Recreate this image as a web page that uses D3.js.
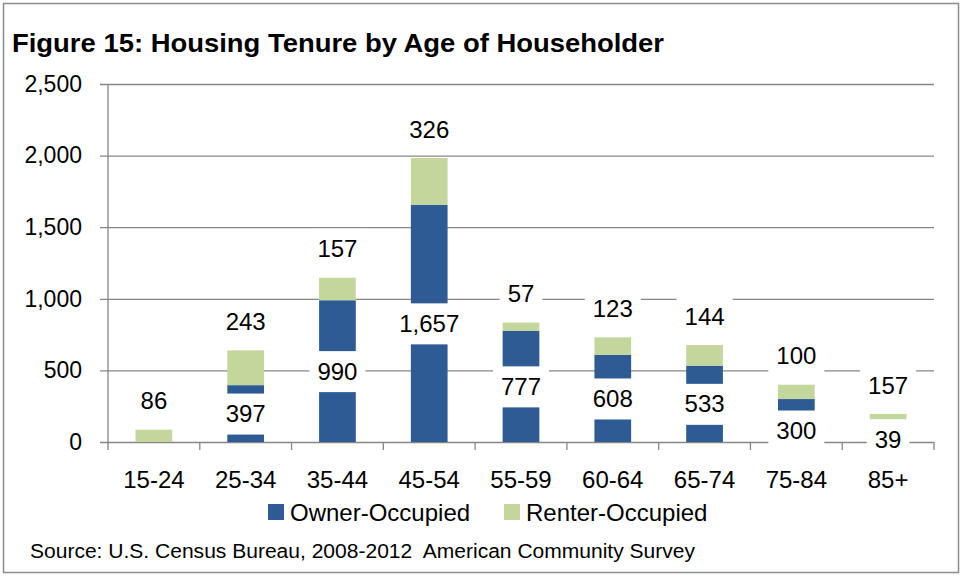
<!DOCTYPE html>
<html>
<head>
<meta charset="utf-8">
<script src="https://cdn.jsdelivr.net/npm/d3@7"></script>
<style>
  body { margin: 0; background: #fff; }
  text { font-family: "Liberation Sans", Arial, sans-serif; fill: #000; }
</style>
</head>
<body>
<div id="chart"></div>
<script>
// age groups and household counts
const ageGroups = ['15-24', '25-34', '35-44', '45-54', '55-59', '60-64', '65-74', '75-84', '85+'];
const ownerValues = [0, 397, 990, 1657, 777, 608, 533, 300, 39];
const renterValues = [86, 243, 157, 326, 57, 123, 144, 100, 157];
const yTicks = [0, 500, 1000, 1500, 2000, 2500];
const seriesNames = ['Owner-Occupied', 'Renter-Occupied'];

const ownerColor = '#2E5B94';
const renterColor = '#C3D69B';
const gridColor = '#868686';

let dimensions = {
    width: 963,
    height: 577,
    margin: { top: 84, right: 29, bottom: 135, left: 108 }
};
dimensions.boundW = dimensions.width - dimensions.margin.left - dimensions.margin.right;
dimensions.boundH = dimensions.height - dimensions.margin.top - dimensions.margin.bottom;

const svg = d3.select('#chart').append('svg')
    .attr('width', dimensions.width)
    .attr('height', dimensions.height);

// outer frame
svg.append('rect')
    .attr('x', 3.5).attr('y', 3.5)
    .attr('width', 955).attr('height', 569)
    .attr('fill', '#fff')
    .attr('stroke', '#8c8c8c')
    .attr('stroke-width', 1.5);

svg.append('text')
    .attr('x', 12).attr('y', 52)
    .attr('textLength', 652)
    .attr('lengthAdjust', 'spacingAndGlyphs')
    .text('Figure 15: Housing Tenure by Age of Householder')
    .style('font-size', '25px')
    .style('font-weight', 'bold');

const bounds = svg.append('g')
    .attr('transform', `translate(${dimensions.margin.left},${dimensions.margin.top})`);

const xScale = d3.scaleBand()
    .domain(ageGroups)
    .range([0, dimensions.boundW])
    .paddingInner(0.6)
    .paddingOuter(0.3);

const yScale = d3.scaleLinear()
    .domain([0, 2500])
    .range([dimensions.boundH, 0]);

// grid + y axis
const yAxisGenerator = d3.axisLeft(yScale)
    .tickValues(yTicks)
    .tickSize(-dimensions.boundW)
    .tickFormat(d3.format(','));

const yAxis = bounds.append('g').call(yAxisGenerator);
yAxis.select('.domain').remove();
yAxis.selectAll('.tick line')
    .attr('x1', -8)
    .attr('stroke', gridColor)
    .attr('stroke-width', 1.3);
yAxis.selectAll('.tick text')
    .attr('x', -26)
    .style('font-size', '23px')
    .style('font-family', '"Liberation Sans", Arial, sans-serif')
    .attr('fill', '#000');

// vertical axis line
bounds.append('line')
    .attr('x1', 0).attr('x2', 0)
    .attr('y1', 0).attr('y2', dimensions.boundH)
    .attr('stroke', gridColor)
    .attr('stroke-width', 1.3);

// category boundary ticks
bounds.append('g')
    .selectAll('line')
    .data(d3.range(ageGroups.length + 1))
    .join('line')
    .attr('x1', i => i * dimensions.boundW / ageGroups.length)
    .attr('x2', i => i * dimensions.boundW / ageGroups.length)
    .attr('y1', dimensions.boundH)
    .attr('y2', dimensions.boundH + 8)
    .attr('stroke', gridColor)
    .attr('stroke-width', 1.3);

// x labels
bounds.append('g')
    .selectAll('text')
    .data(ageGroups)
    .join('text')
    .attr('x', d => xScale(d) + xScale.bandwidth() / 2)
    .attr('y', dimensions.boundH + 46)
    .attr('text-anchor', 'middle')
    .style('font-size', '24px')
    .text(d => d);

// stacked bars
const rows = ageGroups.map((g, i) => ({ group: g, owner: ownerValues[i], renter: renterValues[i] }));
const stack = d3.stack().keys(['owner', 'renter'])(rows);
const colors = { owner: ownerColor, renter: renterColor };

stack.forEach(layer => {
    bounds.append('g')
        .selectAll('rect')
        .data(layer)
        .join('rect')
        .attr('x', d => xScale(d.data.group))
        .attr('width', xScale.bandwidth())
        .attr('y', d => yScale(d[1]))
        .attr('height', d => yScale(d[0]) - yScale(d[1]))
        .attr('fill', colors[layer.key]);
});

// labels with white boxes
function addLabel(x, y, txt) {
    const g = bounds.append('g').attr('transform', `translate(${x},${y})`);
    const box = g.append('rect').attr('fill', '#fff');
    const t = g.append('text')
        .attr('text-anchor', 'middle')
        .attr('dy', '0.36em')
        .style('font-size', '24px')
        .text(txt);
    const w = t.node().getComputedTextLength();
    box.attr('x', -w / 2 - 8).attr('y', -20)
        .attr('width', w + 16).attr('height', 41);
}

const fmt = d3.format(',');
stack[0].forEach(d => {
    if (d.data.owner > 0) {
        // Excel keeps the label box off the axis: small bars get it pushed down a bit
        let y = yScale((d[0] + d[1]) / 2);
        if (d.data.owner <= 300 && d.data.owner > 100) y += 10;
        addLabel(xScale(d.data.group) + xScale.bandwidth() / 2, y, fmt(d.data.owner));
    }
});
stack[1].forEach(d => {
    addLabel(xScale(d.data.group) + xScale.bandwidth() / 2, yScale(d[1]) - 29, fmt(d.data.renter));
});

// legend
const legend = svg.append('g').attr('transform', 'translate(0,512)');
const legendX = [268, 504];
seriesNames.forEach((name, i) => {
    legend.append('rect')
        .attr('x', legendX[i]).attr('y', -8)
        .attr('width', 16).attr('height', 16)
        .attr('fill', i === 0 ? ownerColor : renterColor);
    legend.append('text')
        .attr('x', legendX[i] + 22)
        .attr('dy', '0.36em')
        .style('font-size', '24px')
        .text(name);
});

svg.append('text')
    .attr('x', 30).attr('y', 558)
    .attr('xml:space', 'preserve')
    .style('white-space', 'pre')
    .style('font-size', '20px')
    .attr('textLength', 665)
    .attr('lengthAdjust', 'spacingAndGlyphs')
    .text('Source: U.S. Census Bureau, 2008-2012  American Community Survey');
</script>
</body>
</html>
